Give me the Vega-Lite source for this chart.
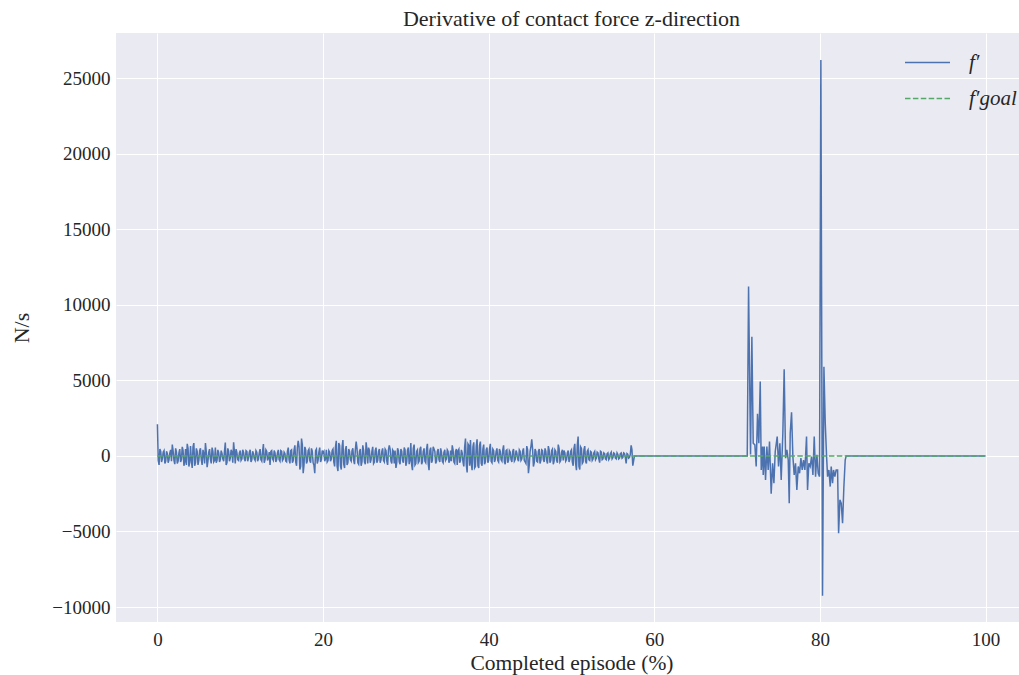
{
  "$schema": "https://vega.github.io/schema/vega-lite/v6.json",
  "autosize": {"type": "none"},
  "padding": {"left": 116, "top": 33, "right": 0, "bottom": 53},
  "width": 911,
  "height": 589,
  "background": "white",
  "view": {"fill": "#EAEAF2", "stroke": null},
  "title": {"text": "Derivative of contact force z-direction", "font": "Liberation Serif", "fontSize": 22, "fontWeight": "normal", "color": "#262626", "offset": 2},
  "config": {
    "axis": {"labelFont": "Liberation Serif", "labelFontSize": 19, "labelColor": "#262626", "titleFont": "Liberation Serif", "titleFontSize": 22, "titleFontWeight": "normal", "titleColor": "#262626", "gridColor": "white", "gridWidth": 1, "gridOpacity": 1, "domain": false, "ticks": false},
    "legend": {"labelFont": "Liberation Serif", "labelFontSize": 21, "labelFontStyle": "italic", "labelColor": "#262626"}
  },
  "datasets": {
    "main": [
      {"x": 0.0, "y": 2100}, {"x": 0.2, "y": -600}, {"x": 0.4, "y": 300}, {"x": 0.6, "y": -200}, {"x": 0.8, "y": 350},
      {"x": 1.0, "y": -350}, {"x": 1.2, "y": 150}, {"x": 1.4, "y": -250}, {"x": 1.6, "y": 400}, {"x": 1.8, "y": 750},
      {"x": 2.0, "y": -300}, {"x": 2.2, "y": 500}, {"x": 2.4, "y": -500}, {"x": 2.6, "y": 200}, {"x": 2.8, "y": -400},
      {"x": 3.0, "y": 600}, {"x": 3.2, "y": -650}, {"x": 3.4, "y": 450}, {"x": 3.6, "y": 800}, {"x": 3.8, "y": -700},
      {"x": 4.0, "y": 650}, {"x": 4.2, "y": -800}, {"x": 4.4, "y": 850}, {"x": 4.6, "y": -450}, {"x": 4.8, "y": 300},
      {"x": 5.0, "y": -300}, {"x": 5.2, "y": 500}, {"x": 5.4, "y": -600}, {"x": 5.6, "y": 150}, {"x": 5.8, "y": 850},
      {"x": 6.0, "y": -750}, {"x": 6.2, "y": 250}, {"x": 6.4, "y": -200}, {"x": 6.6, "y": 550}, {"x": 6.8, "y": -400},
      {"x": 7.0, "y": 550}, {"x": 7.2, "y": -300}, {"x": 7.4, "y": 200}, {"x": 7.6, "y": -250}, {"x": 7.8, "y": 150},
      {"x": 8.0, "y": -350}, {"x": 8.2, "y": 880}, {"x": 8.4, "y": -450}, {"x": 8.6, "y": 300}, {"x": 8.8, "y": -150},
      {"x": 9.0, "y": 250}, {"x": 9.2, "y": 900}, {"x": 9.4, "y": -500}, {"x": 9.6, "y": 200}, {"x": 9.8, "y": -300},
      {"x": 10.0, "y": 350}, {"x": 10.2, "y": -200}, {"x": 10.4, "y": 250}, {"x": 10.6, "y": -350}, {"x": 10.8, "y": 300},
      {"x": 11.0, "y": -150}, {"x": 11.2, "y": 400}, {"x": 11.4, "y": -250}, {"x": 11.6, "y": 150}, {"x": 11.8, "y": -300},
      {"x": 12.0, "y": 250}, {"x": 12.2, "y": -200}, {"x": 12.4, "y": 450}, {"x": 12.6, "y": -350}, {"x": 12.8, "y": 780},
      {"x": 13.0, "y": -250}, {"x": 13.2, "y": 300}, {"x": 13.4, "y": -150}, {"x": 13.6, "y": -600}, {"x": 13.8, "y": 350},
      {"x": 14.0, "y": -300}, {"x": 14.2, "y": 200}, {"x": 14.4, "y": -250}, {"x": 14.6, "y": 400}, {"x": 14.8, "y": -350},
      {"x": 15.0, "y": 300}, {"x": 15.2, "y": -200}, {"x": 15.4, "y": 150}, {"x": 15.6, "y": -400}, {"x": 15.8, "y": 550},
      {"x": 16.0, "y": -500}, {"x": 16.2, "y": 400}, {"x": 16.4, "y": -300}, {"x": 16.6, "y": 700}, {"x": 16.8, "y": -650},
      {"x": 17.0, "y": 1000}, {"x": 17.2, "y": -900}, {"x": 17.4, "y": 1150}, {"x": 17.6, "y": -1150}, {"x": 17.8, "y": 600},
      {"x": 18.0, "y": -500}, {"x": 18.2, "y": 350}, {"x": 18.4, "y": -300}, {"x": 18.6, "y": 500}, {"x": 18.8, "y": -450},
      {"x": 19.0, "y": -1150}, {"x": 19.2, "y": 450}, {"x": 19.4, "y": -300}, {"x": 19.6, "y": 550}, {"x": 19.8, "y": -250},
      {"x": 20.0, "y": 200}, {"x": 20.2, "y": -350}, {"x": 20.4, "y": 400}, {"x": 20.6, "y": -300}, {"x": 20.8, "y": 250},
      {"x": 21.0, "y": -200}, {"x": 21.2, "y": 450}, {"x": 21.4, "y": -700}, {"x": 21.6, "y": 1000}, {"x": 21.8, "y": -1000},
      {"x": 22.0, "y": 700}, {"x": 22.2, "y": -900}, {"x": 22.4, "y": 1050}, {"x": 22.6, "y": -800}, {"x": 22.8, "y": 650},
      {"x": 23.0, "y": -450}, {"x": 23.2, "y": 300}, {"x": 23.4, "y": -350}, {"x": 23.6, "y": 500}, {"x": 23.8, "y": -550},
      {"x": 24.0, "y": 950}, {"x": 24.2, "y": -450}, {"x": 24.4, "y": 300}, {"x": 24.6, "y": -650}, {"x": 24.8, "y": 700},
      {"x": 25.0, "y": -400}, {"x": 25.2, "y": 900}, {"x": 25.4, "y": -500}, {"x": 25.6, "y": 350}, {"x": 25.8, "y": -250},
      {"x": 26.0, "y": 600}, {"x": 26.2, "y": -400}, {"x": 26.4, "y": 550}, {"x": 26.6, "y": -300}, {"x": 26.8, "y": 450},
      {"x": 27.0, "y": -250}, {"x": 27.2, "y": 500}, {"x": 27.4, "y": -400}, {"x": 27.6, "y": 350}, {"x": 27.8, "y": -600},
      {"x": 28.0, "y": 700}, {"x": 28.2, "y": -350}, {"x": 28.4, "y": 400}, {"x": 28.6, "y": -500}, {"x": 28.8, "y": -800},
      {"x": 29.0, "y": 500}, {"x": 29.2, "y": -400}, {"x": 29.4, "y": 450}, {"x": 29.6, "y": -300}, {"x": 29.8, "y": 550},
      {"x": 30.0, "y": -650}, {"x": 30.2, "y": 400}, {"x": 30.4, "y": -550}, {"x": 30.6, "y": 850}, {"x": 30.8, "y": -950},
      {"x": 31.0, "y": 750}, {"x": 31.2, "y": -500}, {"x": 31.4, "y": 400}, {"x": 31.6, "y": -350}, {"x": 31.8, "y": 600},
      {"x": 32.0, "y": -400}, {"x": 32.2, "y": 500}, {"x": 32.4, "y": -450}, {"x": 32.6, "y": 800}, {"x": 32.8, "y": -950},
      {"x": 33.0, "y": 550}, {"x": 33.2, "y": -300}, {"x": 33.4, "y": 450}, {"x": 33.6, "y": -500}, {"x": 33.8, "y": 300},
      {"x": 34.0, "y": -250}, {"x": 34.2, "y": 500}, {"x": 34.4, "y": -350}, {"x": 34.6, "y": 250}, {"x": 34.8, "y": -300},
      {"x": 35.0, "y": 400}, {"x": 35.2, "y": -450}, {"x": 35.4, "y": 350}, {"x": 35.6, "y": 700}, {"x": 35.8, "y": -400},
      {"x": 36.0, "y": 300}, {"x": 36.2, "y": -600}, {"x": 36.4, "y": 450}, {"x": 36.6, "y": -300}, {"x": 36.8, "y": 200},
      {"x": 37.0, "y": -700}, {"x": 37.2, "y": 1150}, {"x": 37.4, "y": -1100}, {"x": 37.6, "y": 700}, {"x": 37.8, "y": 1050},
      {"x": 38.0, "y": -950}, {"x": 38.2, "y": 900}, {"x": 38.4, "y": -700}, {"x": 38.6, "y": 1100}, {"x": 38.8, "y": -800},
      {"x": 39.0, "y": 950}, {"x": 39.2, "y": -650}, {"x": 39.4, "y": 750}, {"x": 39.6, "y": -400}, {"x": 39.8, "y": 550},
      {"x": 40.0, "y": -300}, {"x": 40.2, "y": 800}, {"x": 40.4, "y": -450}, {"x": 40.6, "y": 350}, {"x": 40.8, "y": -250},
      {"x": 41.0, "y": 500}, {"x": 41.2, "y": -400}, {"x": 41.4, "y": 300}, {"x": 41.6, "y": -350}, {"x": 41.8, "y": 700},
      {"x": 42.0, "y": -550}, {"x": 42.2, "y": 400}, {"x": 42.4, "y": -300}, {"x": 42.6, "y": 250}, {"x": 42.8, "y": -400},
      {"x": 43.0, "y": 450}, {"x": 43.2, "y": -250}, {"x": 43.4, "y": 200}, {"x": 43.6, "y": -350}, {"x": 43.8, "y": 300},
      {"x": 44.0, "y": -200}, {"x": 44.2, "y": 500}, {"x": 44.4, "y": -400}, {"x": 44.6, "y": 650}, {"x": 44.8, "y": -1150},
      {"x": 45.0, "y": 300}, {"x": 45.2, "y": 1100}, {"x": 45.4, "y": -700}, {"x": 45.6, "y": 450}, {"x": 45.8, "y": -350},
      {"x": 46.0, "y": 300}, {"x": 46.2, "y": -500}, {"x": 46.4, "y": 400}, {"x": 46.6, "y": -250}, {"x": 46.8, "y": 500},
      {"x": 47.0, "y": -300}, {"x": 47.2, "y": 650}, {"x": 47.4, "y": -450}, {"x": 47.6, "y": 350}, {"x": 47.8, "y": -550},
      {"x": 48.0, "y": 400}, {"x": 48.2, "y": -300}, {"x": 48.4, "y": 750}, {"x": 48.6, "y": -400}, {"x": 48.8, "y": 250},
      {"x": 49.0, "y": -300}, {"x": 49.2, "y": 200}, {"x": 49.4, "y": -250}, {"x": 49.6, "y": 350}, {"x": 49.8, "y": -200},
      {"x": 50.0, "y": 400}, {"x": 50.2, "y": -650}, {"x": 50.4, "y": 800}, {"x": 50.6, "y": -950}, {"x": 50.8, "y": 1280},
      {"x": 51.0, "y": -900}, {"x": 51.2, "y": 500}, {"x": 51.4, "y": -400}, {"x": 51.6, "y": 650}, {"x": 51.8, "y": -500},
      {"x": 52.0, "y": 400}, {"x": 52.2, "y": -300}, {"x": 52.4, "y": 250}, {"x": 52.6, "y": -200}, {"x": 52.8, "y": 300},
      {"x": 53.0, "y": -150}, {"x": 53.2, "y": 200}, {"x": 53.4, "y": -450}, {"x": 53.6, "y": 250}, {"x": 53.8, "y": -200},
      {"x": 54.0, "y": 150}, {"x": 54.2, "y": -250}, {"x": 54.4, "y": 200}, {"x": 54.6, "y": -150}, {"x": 54.8, "y": 250},
      {"x": 55.0, "y": -100}, {"x": 55.2, "y": 150}, {"x": 55.4, "y": -200}, {"x": 55.6, "y": 100}, {"x": 55.8, "y": -150},
      {"x": 56.0, "y": 200}, {"x": 56.2, "y": -100}, {"x": 56.4, "y": 150}, {"x": 56.6, "y": -500}, {"x": 56.8, "y": 100},
      {"x": 57.0, "y": -100}, {"x": 57.2, "y": 700}, {"x": 57.4, "y": -650}, {"x": 57.6, "y": 0},
      {"x": 0.1, "y": -300}, {"x": 0.3, "y": 450}, {"x": 0.5, "y": -400}, {"x": 0.7, "y": 250}, {"x": 0.9, "y": -500},
      {"x": 1.1, "y": 300}, {"x": 1.3, "y": -450}, {"x": 1.5, "y": 200}, {"x": 1.7, "y": -350}, {"x": 1.9, "y": 300},
      {"x": 2.1, "y": -550}, {"x": 2.3, "y": 250}, {"x": 2.5, "y": -350}, {"x": 2.7, "y": 450}, {"x": 2.9, "y": -250},
      {"x": 3.1, "y": 350}, {"x": 3.3, "y": -400}, {"x": 3.5, "y": -600}, {"x": 3.7, "y": 500}, {"x": 3.9, "y": -450},
      {"x": 4.1, "y": -300}, {"x": 4.3, "y": 600}, {"x": 4.5, "y": -650}, {"x": 4.7, "y": 500}, {"x": 4.9, "y": -600},
      {"x": 5.1, "y": 350}, {"x": 5.3, "y": -250}, {"x": 5.5, "y": 400}, {"x": 5.7, "y": -500}, {"x": 5.9, "y": 300},
      {"x": 6.1, "y": -350}, {"x": 6.3, "y": 450}, {"x": 6.5, "y": -500}, {"x": 6.7, "y": 300}, {"x": 6.9, "y": -300},
      {"x": 7.1, "y": -450}, {"x": 7.3, "y": 400}, {"x": 7.5, "y": -400}, {"x": 7.7, "y": 350}, {"x": 7.9, "y": -200},
      {"x": 8.1, "y": 300}, {"x": 8.3, "y": -600}, {"x": 8.5, "y": 500}, {"x": 8.7, "y": -350}, {"x": 8.9, "y": 400},
      {"x": 9.1, "y": -450}, {"x": 9.3, "y": 300}, {"x": 9.5, "y": 450}, {"x": 9.7, "y": -250}, {"x": 9.9, "y": 200},
      {"x": 10.1, "y": -300}, {"x": 10.3, "y": 400}, {"x": 10.5, "y": -200}, {"x": 10.7, "y": 350}, {"x": 10.9, "y": -350},
      {"x": 11.1, "y": 250}, {"x": 11.3, "y": -400}, {"x": 11.5, "y": 300}, {"x": 11.7, "y": -200}, {"x": 11.9, "y": 350},
      {"x": 12.1, "y": -350}, {"x": 12.3, "y": 200}, {"x": 12.5, "y": -250}, {"x": 12.7, "y": 300}, {"x": 12.9, "y": -450},
      {"x": 13.1, "y": 400}, {"x": 13.3, "y": -300}, {"x": 13.5, "y": 250}, {"x": 13.7, "y": 300}, {"x": 13.9, "y": -200},
      {"x": 14.1, "y": 350}, {"x": 14.3, "y": -400}, {"x": 14.5, "y": 200}, {"x": 14.7, "y": -250}, {"x": 14.9, "y": 350},
      {"x": 15.1, "y": -300}, {"x": 15.3, "y": 250}, {"x": 15.5, "y": -350}, {"x": 15.7, "y": 300}, {"x": 15.9, "y": -250},
      {"x": 16.1, "y": 350}, {"x": 16.3, "y": -450}, {"x": 16.5, "y": 400}, {"x": 16.7, "y": -400}, {"x": 16.9, "y": 550},
      {"x": 17.1, "y": 600}, {"x": 17.3, "y": -700}, {"x": 17.5, "y": 750}, {"x": 17.7, "y": -600}, {"x": 17.9, "y": 400},
      {"x": 18.1, "y": -350}, {"x": 18.3, "y": 450}, {"x": 18.5, "y": -450}, {"x": 18.7, "y": 300}, {"x": 18.9, "y": -600},
      {"x": 19.1, "y": 350}, {"x": 19.3, "y": -500}, {"x": 19.5, "y": 250}, {"x": 19.7, "y": -400}, {"x": 19.9, "y": 350},
      {"x": 20.1, "y": 300}, {"x": 20.3, "y": -200}, {"x": 20.5, "y": -400}, {"x": 20.7, "y": 350}, {"x": 20.9, "y": -350},
      {"x": 21.1, "y": 350}, {"x": 21.3, "y": -400}, {"x": 21.5, "y": 600}, {"x": 21.7, "y": -700}, {"x": 21.9, "y": 850},
      {"x": 22.1, "y": -650}, {"x": 22.3, "y": 600}, {"x": 22.5, "y": -550}, {"x": 22.7, "y": 400}, {"x": 22.9, "y": -600},
      {"x": 23.1, "y": 450}, {"x": 23.3, "y": -250}, {"x": 23.5, "y": 350}, {"x": 23.7, "y": -300}, {"x": 23.9, "y": 400},
      {"x": 24.1, "y": 500}, {"x": 24.3, "y": -550}, {"x": 24.5, "y": 450}, {"x": 24.7, "y": -400}, {"x": 24.9, "y": 350},
      {"x": 25.1, "y": -550}, {"x": 25.3, "y": 400}, {"x": 25.5, "y": 550}, {"x": 25.7, "y": -450}, {"x": 25.9, "y": 300},
      {"x": 26.1, "y": -500}, {"x": 26.3, "y": 350}, {"x": 26.5, "y": -450}, {"x": 26.7, "y": 300}, {"x": 26.9, "y": -450},
      {"x": 27.1, "y": 300}, {"x": 27.3, "y": -300}, {"x": 27.5, "y": 450}, {"x": 27.7, "y": -350}, {"x": 27.9, "y": 400},
      {"x": 28.1, "y": 450}, {"x": 28.3, "y": -500}, {"x": 28.5, "y": 300}, {"x": 28.7, "y": 350}, {"x": 28.9, "y": -450},
      {"x": 29.1, "y": 350}, {"x": 29.3, "y": -550}, {"x": 29.5, "y": 300}, {"x": 29.7, "y": -450}, {"x": 29.9, "y": 400},
      {"x": 30.1, "y": -400}, {"x": 30.3, "y": 550}, {"x": 30.5, "y": -300}, {"x": 30.7, "y": -600}, {"x": 30.9, "y": 500},
      {"x": 31.1, "y": -600}, {"x": 31.3, "y": 300}, {"x": 31.5, "y": -450}, {"x": 31.7, "y": 450}, {"x": 31.9, "y": -550},
      {"x": 32.1, "y": 300}, {"x": 32.3, "y": -350}, {"x": 32.5, "y": 450}, {"x": 32.7, "y": -500}, {"x": 32.9, "y": 350},
      {"x": 33.1, "y": -450}, {"x": 33.3, "y": 600}, {"x": 33.5, "y": 300}, {"x": 33.7, "y": -350}, {"x": 33.9, "y": 450},
      {"x": 34.1, "y": -400}, {"x": 34.3, "y": 250}, {"x": 34.5, "y": -450}, {"x": 34.7, "y": 400}, {"x": 34.9, "y": -200},
      {"x": 35.1, "y": 300}, {"x": 35.3, "y": -300}, {"x": 35.5, "y": -350}, {"x": 35.7, "y": 400}, {"x": 35.9, "y": -500},
      {"x": 36.1, "y": 450}, {"x": 36.3, "y": 350}, {"x": 36.5, "y": -450}, {"x": 36.7, "y": 400}, {"x": 36.9, "y": -400},
      {"x": 37.1, "y": 600}, {"x": 37.3, "y": -600}, {"x": 37.5, "y": 800}, {"x": 37.7, "y": -650}, {"x": 37.9, "y": -500},
      {"x": 38.1, "y": 600}, {"x": 38.3, "y": -800}, {"x": 38.5, "y": 650}, {"x": 38.7, "y": -650}, {"x": 38.9, "y": 700},
      {"x": 39.1, "y": -500}, {"x": 39.3, "y": 450}, {"x": 39.5, "y": -550}, {"x": 39.7, "y": 400}, {"x": 39.9, "y": -450},
      {"x": 40.1, "y": 450}, {"x": 40.3, "y": -350}, {"x": 40.5, "y": 450}, {"x": 40.7, "y": -400}, {"x": 40.9, "y": 300},
      {"x": 41.1, "y": -300}, {"x": 41.3, "y": 450}, {"x": 41.5, "y": -250}, {"x": 41.7, "y": 400}, {"x": 41.9, "y": -400},
      {"x": 42.1, "y": 350}, {"x": 42.3, "y": -450}, {"x": 42.5, "y": 350}, {"x": 42.7, "y": -250}, {"x": 42.9, "y": 300},
      {"x": 43.1, "y": -350}, {"x": 43.3, "y": 350}, {"x": 43.5, "y": -200}, {"x": 43.7, "y": 400}, {"x": 43.9, "y": -300},
      {"x": 44.1, "y": 300}, {"x": 44.3, "y": -300}, {"x": 44.5, "y": -500}, {"x": 44.7, "y": 400}, {"x": 44.9, "y": -600},
      {"x": 45.1, "y": 600}, {"x": 45.3, "y": 500}, {"x": 45.5, "y": -450}, {"x": 45.7, "y": 300}, {"x": 45.9, "y": -400},
      {"x": 46.1, "y": 450}, {"x": 46.3, "y": -300}, {"x": 46.5, "y": 350}, {"x": 46.7, "y": -400}, {"x": 46.9, "y": 300},
      {"x": 47.1, "y": -500}, {"x": 47.3, "y": 400}, {"x": 47.5, "y": -300}, {"x": 47.7, "y": 450}, {"x": 47.9, "y": -350},
      {"x": 48.1, "y": 300}, {"x": 48.3, "y": -450}, {"x": 48.5, "y": 500}, {"x": 48.7, "y": -300}, {"x": 48.9, "y": 400},
      {"x": 49.1, "y": 350}, {"x": 49.3, "y": -350}, {"x": 49.5, "y": 200}, {"x": 49.7, "y": -400}, {"x": 49.9, "y": 300},
      {"x": 50.1, "y": -400}, {"x": 50.3, "y": 500}, {"x": 50.5, "y": -500}, {"x": 50.7, "y": 700}, {"x": 50.9, "y": -700},
      {"x": 51.1, "y": 600}, {"x": 51.3, "y": -500}, {"x": 51.5, "y": 400}, {"x": 51.7, "y": -350}, {"x": 51.9, "y": 300},
      {"x": 52.1, "y": -250}, {"x": 52.3, "y": 300}, {"x": 52.5, "y": -300}, {"x": 52.7, "y": 200}, {"x": 52.9, "y": -250},
      {"x": 53.1, "y": 250}, {"x": 53.3, "y": -200}, {"x": 53.5, "y": 300}, {"x": 53.7, "y": -250}, {"x": 53.9, "y": 200},
      {"x": 54.1, "y": -200}, {"x": 54.3, "y": 150}, {"x": 54.5, "y": -250}, {"x": 54.7, "y": 150}, {"x": 54.9, "y": -200},
      {"x": 55.1, "y": 200}, {"x": 55.3, "y": -150}, {"x": 55.5, "y": 200}, {"x": 55.7, "y": -200}, {"x": 55.9, "y": 150},
      {"x": 56.1, "y": -150}, {"x": 56.3, "y": 200}, {"x": 56.5, "y": -100}, {"x": 56.7, "y": 150}, {"x": 56.9, "y": -150},
      {"x": 57.1, "y": 100}, {"x": 57.3, "y": 400},
      {"x": 71.22, "y": 0}, {"x": 71.38, "y": 11200}, {"x": 71.62, "y": 100}, {"x": 71.78, "y": 7890}, {"x": 71.94, "y": 840},
      {"x": 72.14, "y": 730}, {"x": 72.30, "y": -700}, {"x": 72.46, "y": 2780}, {"x": 72.62, "y": 840}, {"x": 72.79, "y": 4920},
      {"x": 72.91, "y": -930}, {"x": 73.07, "y": 620}, {"x": 73.15, "y": -1260}, {"x": 73.27, "y": 620}, {"x": 73.43, "y": -1590},
      {"x": 73.59, "y": 620}, {"x": 73.75, "y": -930}, {"x": 73.91, "y": 950}, {"x": 74.11, "y": -2510}, {"x": 74.28, "y": -490},
      {"x": 74.44, "y": -1810}, {"x": 74.60, "y": 290}, {"x": 74.84, "y": 1280}, {"x": 75.00, "y": -700}, {"x": 75.16, "y": 840},
      {"x": 75.32, "y": -1590}, {"x": 75.52, "y": 1500}, {"x": 75.68, "y": 5730}, {"x": 75.85, "y": -150}, {"x": 76.01, "y": 400},
      {"x": 76.17, "y": -270}, {"x": 76.29, "y": -3130}, {"x": 76.41, "y": 1500}, {"x": 76.57, "y": 2890}, {"x": 76.73, "y": -40},
      {"x": 76.89, "y": -1260}, {"x": 77.05, "y": -490}, {"x": 77.21, "y": -2250}, {"x": 77.38, "y": -700}, {"x": 77.54, "y": -1150},
      {"x": 77.70, "y": -150}, {"x": 77.86, "y": -930}, {"x": 78.02, "y": -270}, {"x": 78.18, "y": -930}, {"x": 78.38, "y": 1280},
      {"x": 78.50, "y": -2250}, {"x": 78.66, "y": -490}, {"x": 78.82, "y": -700}, {"x": 78.99, "y": -40}, {"x": 79.15, "y": -1260},
      {"x": 79.31, "y": 1280}, {"x": 79.47, "y": -1370}, {"x": 79.63, "y": 70}, {"x": 79.79, "y": -1150}, {"x": 79.95, "y": -1370},
      {"x": 80.11, "y": 26200}, {"x": 80.31, "y": -9250}, {"x": 80.48, "y": 5900}, {"x": 80.64, "y": 2160}, {"x": 80.80, "y": -40},
      {"x": 80.92, "y": -1370}, {"x": 81.08, "y": -930}, {"x": 81.24, "y": -2030}, {"x": 81.36, "y": -700}, {"x": 81.52, "y": -1810},
      {"x": 81.64, "y": -930}, {"x": 81.80, "y": -1370}, {"x": 81.96, "y": -930}, {"x": 82.13, "y": -930}, {"x": 82.25, "y": -5120},
      {"x": 82.41, "y": -2910}, {"x": 82.57, "y": -3130}, {"x": 82.73, "y": -4450}, {"x": 82.89, "y": -2030}, {"x": 83.05, "y": -270},
      {"x": 83.17, "y": 0}, {"x": 100, "y": 0}
    ],
    "goal": [{"x": 0, "y": 0}, {"x": 100, "y": 0}]
  },
  "layer": [
    {
      "data": {"name": "main"},
      "mark": {"type": "line", "strokeWidth": 1.5, "clip": true},
      "encoding": {
        "x": {"field": "x", "type": "quantitative", "scale": {"domain": [-5, 105], "nice": false, "zero": false}, "axis": {"title": "Completed episode (%)", "values": [0, 20, 40, 60, 80, 100], "labelPadding": 8, "titlePadding": 3, "titleFontSize": 21.5, "format": "d"}},
        "y": {"field": "y", "type": "quantitative", "scale": {"domain": [-10990, 27980], "nice": false, "zero": false}, "axis": {"title": "N/s", "values": [-10000, -5000, 0, 5000, 10000, 15000, 20000, 25000], "format": "d", "labelPadding": 6, "titlePadding": 18}},
        "color": {"datum": "f′", "type": "nominal", "scale": {"domain": ["f′", "f′goal"], "range": ["#4C72B0", "#55A868"]}, "legend": {"title": null, "orient": "none", "legendX": 788, "legendY": 6, "symbolType": "stroke", "symbolSize": 2025, "symbolStrokeWidth": 1.5, "labelOffset": 18, "rowPadding": 2}},
        "strokeDash": {"datum": "f′", "type": "nominal", "scale": {"domain": ["f′", "f′goal"], "range": [[1, 0], [5.5, 2.4]]}, "legend": {"title": null}}
      }
    },
    {
      "data": {"name": "goal"},
      "mark": {"type": "line", "strokeWidth": 1.5},
      "encoding": {
        "x": {"field": "x", "type": "quantitative"},
        "y": {"field": "y", "type": "quantitative"},
        "color": {"datum": "f′goal", "type": "nominal"},
        "strokeDash": {"datum": "f′goal", "type": "nominal"}
      }
    }
  ]
}
